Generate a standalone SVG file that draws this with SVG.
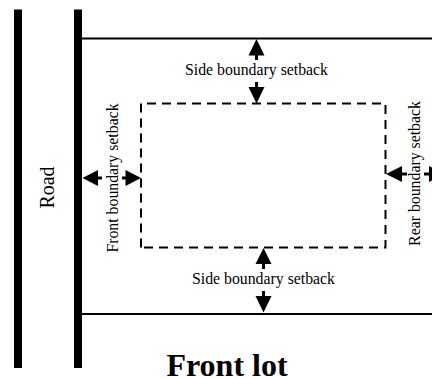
<svg xmlns="http://www.w3.org/2000/svg" width="432" height="378" viewBox="0 0 432 378">
<style>
text{font-family:"Liberation Serif","Times New Roman",serif;fill:#000}
.l{font-size:15.8px}
.road{fill:#000}
.line{stroke:#000;stroke-width:2;fill:none}
.dash{stroke:#000;stroke-width:2;fill:none;stroke-dasharray:9 6}
.ar{fill:#000;stroke:none}
</style>
<rect width="432" height="378" fill="#fff"/>
<g id="road">
<rect class="road" x="14" y="9.500" width="8" height="358.500"/>
<rect class="road" x="74" y="9.500" width="8" height="358.500"/>
<text transform="translate(54 187.500) rotate(-90)" text-anchor="middle" font-size="20">Road</text>
</g>
<g id="lot">
<path class="line" d="M82 38.500H432M82 314H432"/>
<path class="dash" d="M141 247.500V103.500H385.500V247.500H141"/>
</g>
<g id="connectors">
<path class="ar" d="M256.500 39l8 16.500h-6.500v4.500h-3v-4.500h-6.500zM256.500 103.500l8-16.500h-6.500v-5h-3v5h-6.500z"/>
<path class="ar" d="M263.500 248l8 16h-6.500v5h-3v-5h-6.500zM263.500 312.500l8-16.500h-6.500v-5h-3v5h-6.500z"/>
<path class="ar" d="M82.500 178l15.500-8v6.500h4v3h-4v6.500zM141 178l-15.500-8v6.500h-3.500v3h3.500v6.500z"/>
<path class="ar" d="M386 174l16-8v6.500h5v3h-5v6.500zM432 169.500v-2l-3-1.500v6.500h-5v3h5v6.500l3-1.500v-2z"/>
</g>
<g id="labels">
<text class="l" x="256.500" y="75" text-anchor="middle">Side boundary setback</text>
<text class="l" x="263.500" y="284" text-anchor="middle">Side boundary setback</text>
<text class="l" transform="translate(118 178) rotate(-90)" text-anchor="middle">Front boundary setback</text>
<text class="l" transform="translate(420 173.500) rotate(-90)" text-anchor="middle">Rear boundary setback</text>
<text x="227" y="375.500" text-anchor="middle" font-size="32" font-weight="bold">Front lot</text>
</g>
</svg>
